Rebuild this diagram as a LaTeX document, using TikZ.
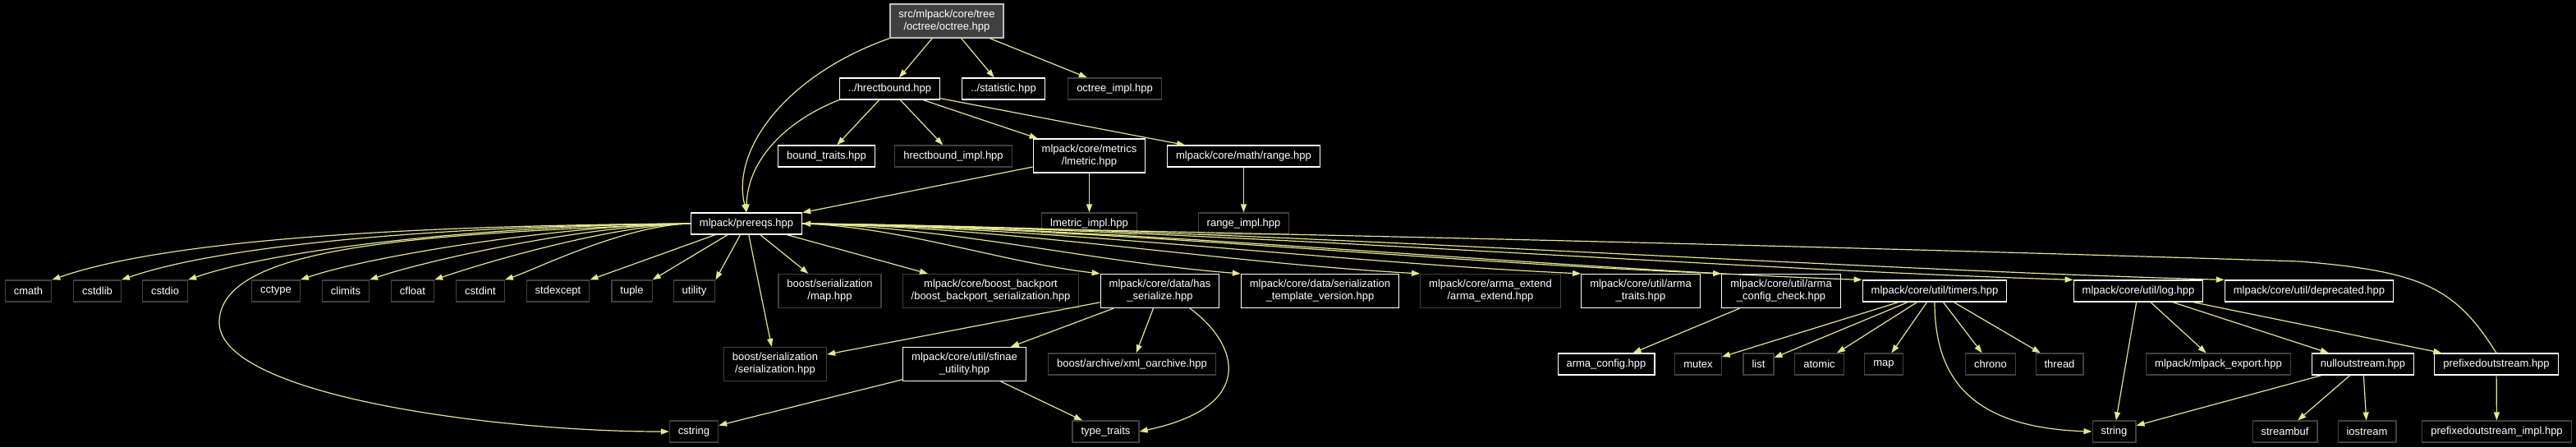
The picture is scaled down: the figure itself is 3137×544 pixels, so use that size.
\documentclass[tikz,border=0pt]{standalone}
\usepackage{fontspec}
\setmainfont{Liberation Sans}
\usetikzlibrary{arrows.meta}
\definecolor{edgx}{RGB}{230,230,143}
\definecolor{grax}{RGB}{64,64,64}
\definecolor{rtbx}{RGB}{191,191,191}
\tikzset{
    hdr/.style={draw,fill=black,text=white,line width=1.2pt,inner xsep=10.5pt,inner ysep=0pt,
        minimum height=26pt,font=\fontsize{13}{15}\selectfont,align=center},
    docu/.style={hdr,draw=white},
    undoc/.style={hdr,draw=grax},
    twol/.style={minimum height=41pt},
    rootn/.style={hdr,draw=rtbx,fill=grax,twol},
    incl/.style={edgx,line width=1.2pt,-{Triangle[length=10pt,width=7pt]}}
}

\begin{document}
\begin{tikzpicture}[x=1pt,y=-1pt]
        \fill[black] (0,0) rectangle (3137,544);
        \useasboundingbox (0,0) rectangle (3137,544);
        \node [rootn] (octree) at (1153,25.5) {src/mlpack/core/tree\\/octree/octree.hpp};
        \node [docu] (hrect) at (1083.5,108) {../hrectbound.hpp};
        \node [docu] (stat) at (1222,108) {../statistic.hpp};
        \node [undoc] (octimpl) at (1357.5,108) {octree\_impl.hpp};
        \node [docu] (btraits) at (1006.5,190) {bound\_traits.hpp};
        \node [undoc] (hrimpl) at (1161,190) {hrectbound\_impl.hpp};
        \node [docu,twol] (lmetric) at (1326.5,189.5) {mlpack/core/metrics\\/lmetric.hpp};
        \node [docu] (range) at (1514.5,190) {mlpack/core/math/range.hpp};
        \node [docu] (prereqs) at (909,272) {mlpack/prereqs.hpp};
        \node [undoc] (lmimpl) at (1326.5,272) {lmetric\_impl.hpp};
        \node [undoc] (rgimpl) at (1514.5,272) {range\_impl.hpp};
        \foreach \n/\x in {cmath/34.5,cstdlib/118.5,cstdio/201,cctype/336,climits/421,
            cfloat/502.5,cstdint/585,stdexcept/679.5,tuple/769.5,utility/845.5} {
            \node [undoc] (\n) at (\x,354) {\n};
        }
        \node [undoc,twol] (bmap) at (1010.5,354) {boost/serialization\\/map.hpp};
        \node [undoc,twol] (backport) at (1206.5,354) {mlpack/core/boost\_backport\\/boost\_backport\_serialization.hpp};
        \node [docu,twol] (hasser) at (1412.5,354) {mlpack/core/data/has\\\_serialize.hpp};
        \node [docu,twol] (sertv) at (1607.5,354) {mlpack/core/data/serialization\\\_template\_version.hpp};
        \node [undoc,twol] (armaext) at (1815,354) {mlpack/core/arma\_extend\\/arma\_extend.hpp};
        \node [docu,twol] (armatr) at (1998,354) {mlpack/core/util/arma\\\_traits.hpp};
        \node [docu,twol] (armacc) at (2169,354) {mlpack/core/util/arma\\\_config\_check.hpp};
        \node [docu] (timers) at (2356,354) {mlpack/core/util/timers.hpp};
        \node [docu] (log) at (2604,354) {mlpack/core/util/log.hpp};
        \node [docu] (deprec) at (2812,354) {mlpack/core/util/deprecated.hpp};
        \node [undoc,twol] (serhpp) at (944,443) {boost/serialization\\/serialization.hpp};
        \node [docu,twol] (sfinae) at (1174.5,443) {mlpack/core/util/sfinae\\\_utility.hpp};
        \node [undoc] (xmlarch) at (1378.5,443) {boost/archive/xml\_oarchive.hpp};
        \node [docu] (armacfg) at (1956,443) {arma\_config.hpp};
        \foreach \n/\x in {mutex/2068,list/2141.5,atomic/2215.5,map/2294,chrono/2424,thread/2508} {
            \node [undoc] (\n) at (\x,443) {\n};
        }
        \node [undoc] (mlexport) at (2701.5,443) {mlpack/mlpack\_export.hpp};
        \node [docu] (nullos) at (2877.5,443) {nulloutstream.hpp};
        \node [docu] (prefos) at (3040,443) {prefixedoutstream.hpp};
        \node [undoc] (cstring) at (845,525) {cstring};
        \node [undoc] (typetr) at (1346.5,525) {type\_traits};
        \node [undoc] (string) at (2574.5,525) {string};
        \node [undoc] (streambuf) at (2782.5,525) {streambuf};
        \node [undoc] (iostream) at (2882.5,525) {iostream};
        \node [undoc] (prefimpl) at (3040.5,525) {prefixedoutstream\_impl.hpp};
        \foreach \t in {hrect,stat,octimpl} {
            \draw [incl] (octree) -- (\t);
        }
        \draw [incl] (octree.south west) .. controls (960,90) and (890,180) .. (prereqs.north);
        \foreach \t in {btraits,hrimpl,lmetric,range} {
            \draw [incl] (hrect) -- (\t);
        }
        \draw [incl] (hrect.south west) .. controls (950,150) and (910,200) .. (prereqs.north);
        \draw [incl] (lmetric) -- (prereqs);
        \draw [incl] (lmetric) -- (lmimpl);
        \draw [incl] (range) -- (rgimpl);
        \foreach \t/\d/\e in {cmath/300/150,cstdlib/270/130,cstdio/240/110,cctype/160/80,
            climits/130/65,cfloat/100/50,cstdint/80/40} {
            \draw [incl] (prereqs.west) .. controls +(-\d,2) and +(\e,-0.35*\e) .. (\t.north east);
        }
        \foreach \t in {stdexcept,tuple,utility} {
            \draw [incl] (prereqs) -- (\t.north east);
        }
        \foreach \t in {bmap,backport,serhpp} {
            \draw [incl] (prereqs) -- (\t);
        }
        \foreach \t/\d in {hasser/120,sertv/180,armaext/250,armatr/300,armacc/350,timers/400,log/450,deprec/500} {
            \draw [incl] (prereqs.east) .. controls +(\d,4) and +(-\d,-14) .. (\t.north west);
        }
        \draw [incl] (prereqs.west) .. controls (500,285) and (272,300) .. (267,390)
            .. controls (262,480) and (600,525) .. (cstring.west);
        \foreach \t in {serhpp,sfinae,xmlarch} {
            \draw [incl] (hasser) -- (\t);
        }
        \draw [incl] (hasser.-30) .. controls (1510,420) and (1530,495) .. (typetr.east);
        \draw [incl] (sfinae) -- (cstring);
        \draw [incl] (sfinae) -- (typetr);
        \draw [incl] (armacc) -- (armacfg);
        \foreach \t in {mutex,list,atomic,map,chrono,thread} {
            \draw [incl] (timers) -- (\t);
        }
        \draw [incl] (timers.south) .. controls (2356,460) and (2400,520) .. (string.west);
        \foreach \t in {string,mlexport,nullos,prefos} {
            \draw [incl] (log) -- (\t);
        }
        \foreach \t in {string,streambuf,iostream} {
            \draw [incl] (nullos) -- (\t);
        }
        \draw [incl] (prefos) -- (prefimpl);
        \draw [incl] (prefos.north) .. controls (2990,350) and (2950,330) .. (2800,318)
            .. controls (2000,292) and (1300,280) .. (prereqs.east);
    \end{tikzpicture}
\end{document}
